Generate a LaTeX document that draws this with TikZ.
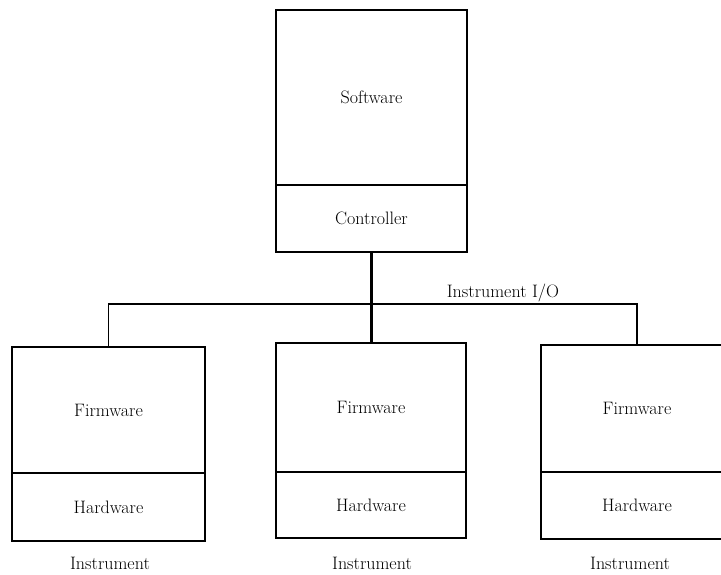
\documentclass[tikz,border=0pt]{standalone}
\begin{document}
\begin{tikzpicture}[x=1pt,y=-1pt,
  part/.style={draw=black, line width=1.6pt, outer sep=0pt, inner sep=0pt, anchor=north west, font=\fontsize{18}{21}\selectfont},
  wire/.style={line width=1.6pt},
  trunk/.style={line width=2.4pt},
  lbl/.style={font=\fontsize{18}{21}\selectfont, inner sep=0pt}]
\useasboundingbox (0,0) rectangle (721,574);
\clip (0,0) rectangle (721,574);
% controller box
\node[part, minimum width=191pt, minimum height=175pt] (sw) at (276,10) {Software};
\node[part, minimum width=191pt, minimum height=67pt] (ctrl) at (276,185) {Controller};
% instruments
\node[part, minimum width=193pt, minimum height=126pt] (fw1) at (12,347) {Firmware};
\node[part, minimum width=193pt, minimum height=68pt] (hw1) at (12,473) {Hardware};
\node[part, minimum width=190pt, minimum height=129pt] (fw2) at (276,343) {Firmware};
\node[part, minimum width=190pt, minimum height=66pt] (hw2) at (276,472) {Hardware};
\node[part, minimum width=192pt, minimum height=127pt] (fw3) at (541,345) {Firmware};
\node[part, minimum width=192pt, minimum height=67pt] (hw3) at (541,472) {Hardware};
% labels
\node[lbl, anchor=base] (l1) at (110,569) {Instrument};
\node[lbl, anchor=base] (l2) at (372,569) {Instrument};
\node[lbl, anchor=base] (l3) at (630,569) {Instrument};
\node[lbl, anchor=base] (io) at (503,297) {Instrument I/O};
% bus
\coordinate (bus) at (372,304);
\draw[trunk] (ctrl.south) -- (ctrl.south |- fw2.north);
\draw[wire] (fw1.north) |- (bus) -| (fw3.north);
\end{tikzpicture}
\end{document}
